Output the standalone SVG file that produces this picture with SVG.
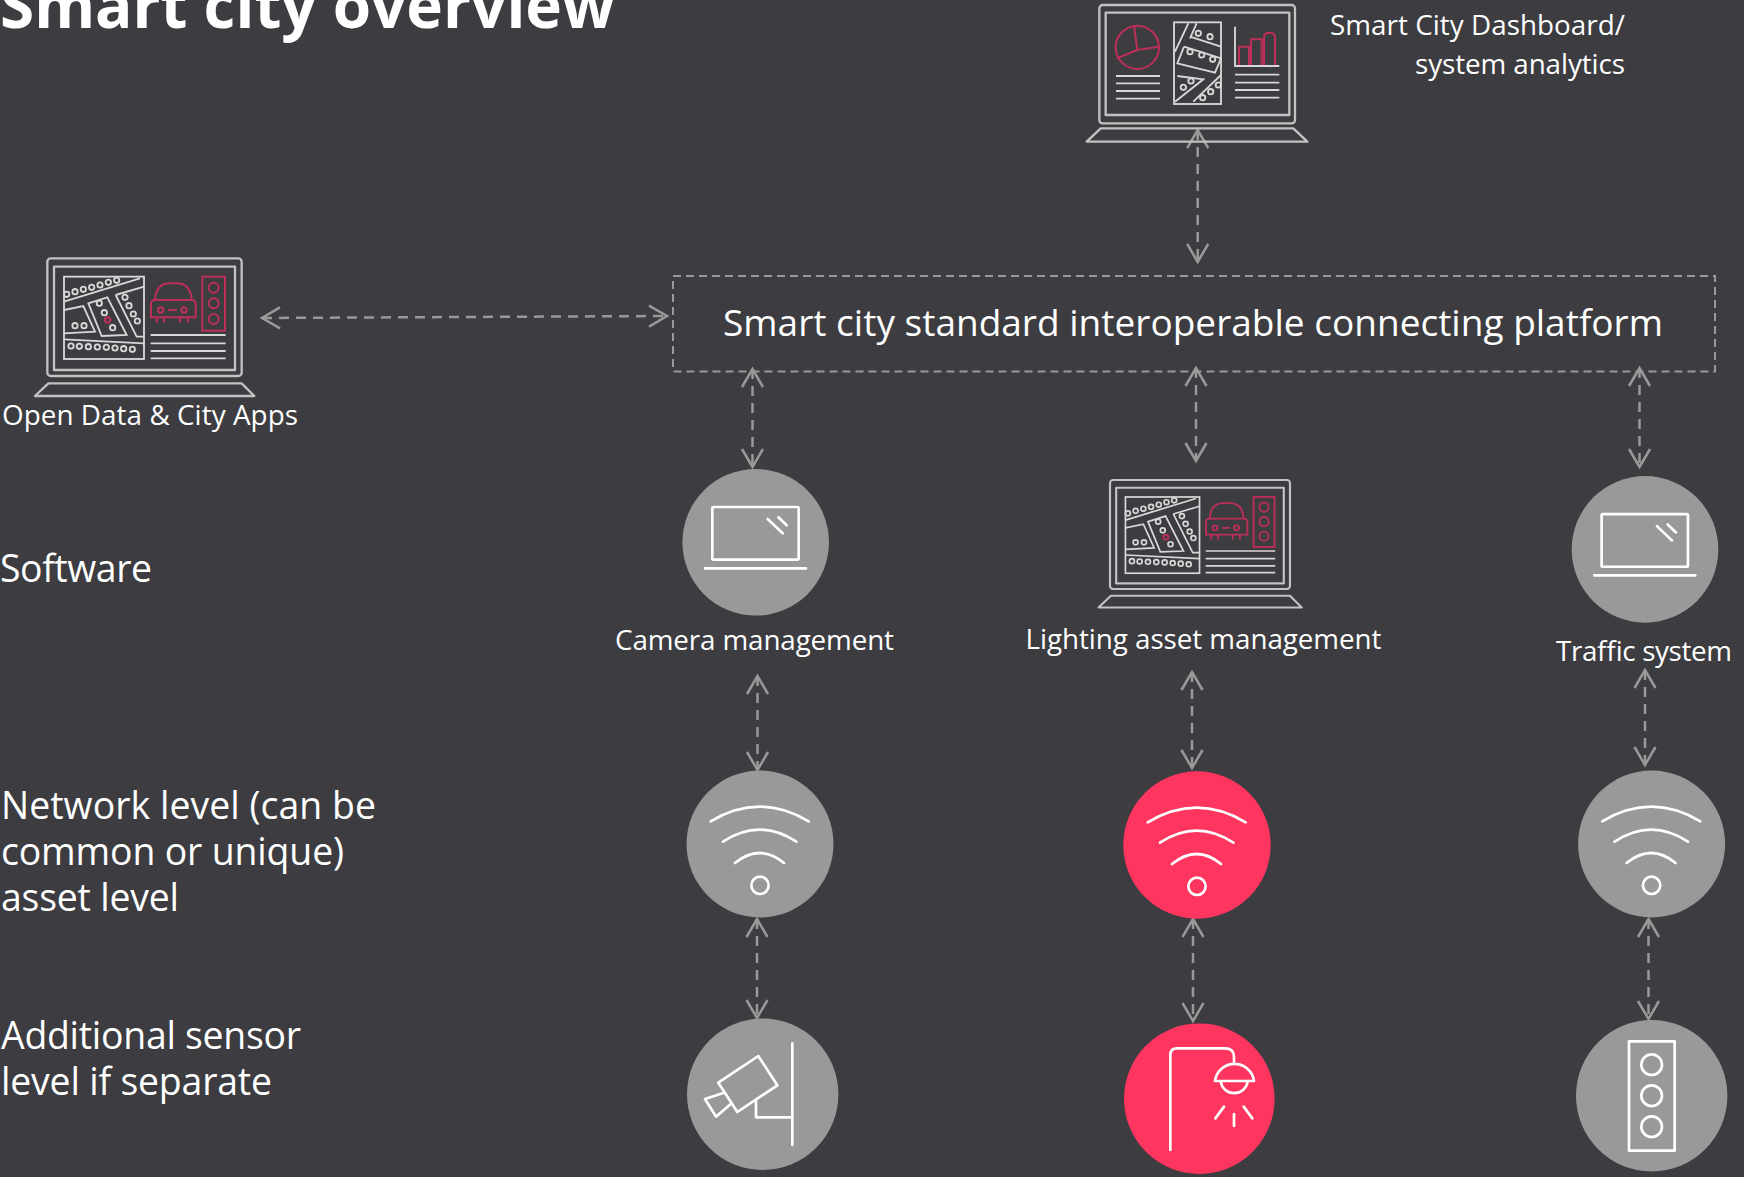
<svg xmlns="http://www.w3.org/2000/svg" xmlns:xlink="http://www.w3.org/1999/xlink" width="1744" height="1177" viewBox="0 0 1744 1177">
<style>
text{font-family:"Open Sans","Noto Sans","Liberation Sans",sans-serif;fill:#fff}
.t{font-size:62px;font-weight:700}
.lab{font-size:27.800px}
.side{font-size:37.400px}
.plat{font-size:37px}
.flow{fill:none;stroke:#999;stroke-width:2.500;stroke-dasharray:10 7;marker-start:url(#v);marker-end:url(#v)}
.gray{fill:#999}.red{fill:#fd355f}
.ico{fill:none;stroke:#fff;stroke-width:8;stroke-linecap:round;stroke-linejoin:round}
.fr{fill:none;stroke:#c2c2c2;stroke-width:7;stroke-linejoin:round}
.w{fill:none;stroke:#d8d8d8;stroke-width:5.500}
.r{fill:none;stroke:#bd2f58;stroke-width:6}
</style>
<defs>
<marker id="v" markerUnits="userSpaceOnUse" markerWidth="26" markerHeight="28" viewBox="-22 -14 26 28" refX="0" refY="0" orient="auto-start-reverse"><path d="M-18,-10.500L0,0L-18,10.500" fill="none" stroke="#999" stroke-width="2.500"/></marker>
<g id="wifi" class="ico"><path d="M143,187Q290,99 437,187M180,248Q290,176 400,248M216,312Q290,252 363,312"/><circle cx="291" cy="379" r="26"/></g>
<g id="lap" class="ico"><rect x="157" y="171" width="259" height="158" rx="4"/><path d="M135,355H438M323,207L368,250M355,202L380,226"/></g>
<g id="city-laptop">
<rect class="fr" x="82" y="55" width="583" height="353" rx="10"/>
<rect class="fr" x="102" y="80" width="543" height="310"/>
<path class="fr" d="M85,430H665L703,468H45Z"/>
<rect class="w" x="132" y="110" width="240" height="247"/>
<path class="w" d="M132,185L360,115M132,210L190,198L225,275L132,280M205,190L262,172L320,285L245,288ZM287,165L372,140M287,165L350,290H372M132,298L372,310"/>
<g class="w" stroke-width="4"><circle cx="140" cy="163" r="8"/><circle cx="165" cy="155" r="8"/><circle cx="190" cy="148" r="8"/><circle cx="215" cy="142" r="8"/><circle cx="240" cy="135" r="8"/><circle cx="265" cy="127" r="8"/><circle cx="290" cy="121" r="8"/><circle cx="165" cy="257" r="8"/><circle cx="192" cy="257" r="8"/><circle cx="238" cy="190" r="8"/><circle cx="253" cy="218" r="8"/><circle cx="278" cy="263" r="8"/><circle cx="315" cy="172" r="8"/><circle cx="327" cy="197" r="8"/><circle cx="340" cy="222" r="8"/><circle cx="352" cy="243" r="8"/><circle cx="153" cy="318" r="8"/><circle cx="178" cy="319" r="8"/><circle cx="205" cy="320" r="8"/><circle cx="232" cy="321" r="8"/><circle cx="259" cy="322" r="8"/><circle cx="285" cy="324" r="8"/><circle cx="311" cy="326" r="8"/><circle cx="337" cy="328" r="8"/></g>
<g class="r"><circle cx="263" cy="240" r="8"/><path d="M405,180Q408,130 450,130H470Q512,130 515,180M393,192Q393,180 405,180H515Q527,180 527,192V232H393ZM410,232V248M432,232V248M480,232V248M503,232V248M445,210H470"/><circle cx="422" cy="210" r="8"/><circle cx="492" cy="210" r="8"/><rect x="547" y="110" width="68" height="162"/><circle cx="581" cy="143" r="15"/><circle cx="581" cy="190" r="15"/><circle cx="581" cy="237" r="15"/></g>
<path class="w" d="M392,285H617M392,310H617M392,333H617M392,355H617"/>
</g>
</defs>
<rect width="1744" height="1177" fill="#3c3c41"/>
<g id="connectors">
<path class="flow" d="M1197.700,130V262"/>
<path class="flow" d="M262,318L667,316"/>
<path class="flow" d="M752.500,369V467"/>
<path class="flow" d="M1196,368V461"/>
<path class="flow" d="M1639.500,368V467"/>
<path class="flow" d="M757.500,676V770"/>
<path class="flow" d="M1192,672V768"/>
<path class="flow" d="M1645,670V765"/>
<path class="flow" d="M757,919V1018"/>
<path class="flow" d="M1193,919V1021"/>
<path class="flow" d="M1648.500,919V1019"/>
</g>
<g id="title"><text class="t" x="0" y="28" textLength="615">Smart city overview</text></g>
<g id="dashboard" transform="translate(1060,0) scale(.33333)">
<rect class="fr" x="118" y="15" width="587" height="355" rx="10"/>
<rect class="fr" x="137" y="38" width="551" height="307"/>
<path class="fr" d="M122,385H700L742,425H80Z"/>
<g class="r"><circle cx="232" cy="142" r="65"/><path d="M232,150L222,78M232,150L295,140M232,150L170,175M537,198V140H567V198M573,198V118H605V198M612,198V112Q612,98 628,98Q645,98 645,112V198"/></g>
<rect class="w" x="342" y="67" width="141" height="245"/>
<path class="w" d="M345,155L385,70M390,115L410,70M390,110L483,140M372,140L352,190L465,218L483,175L372,140M352,228L430,238L345,305M400,305L483,225M168,228H300M168,250H300M168,273H300M168,296H300M525,80V198H658M525,224H658M525,248H658M525,270H658M525,293H658"/>
<g class="w" stroke-width="4"><circle cx="415" cy="100" r="8"/><circle cx="450" cy="110" r="8"/><circle cx="390" cy="155" r="8"/><circle cx="425" cy="165" r="8"/><circle cx="458" cy="178" r="8"/><circle cx="393" cy="243" r="8"/><circle cx="370" cy="262" r="8"/><circle cx="475" cy="255" r="8"/><circle cx="452" cy="275" r="8"/><circle cx="428" cy="293" r="8"/></g>
</g>
<g id="dashboard-label"><text class="lab" x="1330" y="35" textLength="295">Smart City Dashboard/</text><text class="lab" x="1415" y="74" textLength="210">system analytics</text></g>
<g id="open-data"><use xlink:href="#city-laptop" href="#city-laptop" transform="translate(20,240) scale(.33333)"/><text class="lab" x="2" y="425" textLength="296">Open Data &amp; City Apps</text></g>
<g id="platform"><rect x="673" y="276" width="1042" height="95.500" fill="none" stroke="#999" stroke-width="2" stroke-dasharray="8 5"/><text class="plat" x="723" y="336" textLength="940">Smart city standard interoperable connecting platform</text></g>
<g id="side-labels">
<text class="side" x="0" y="582" textLength="152">Software</text>
<text class="side" x="1" y="818.600" textLength="375">Network level (can be</text>
<text class="side" x="1" y="864.500" textLength="343">common or unique)</text>
<text class="side" x="1" y="911" textLength="178">asset level</text>
<text class="side" x="1" y="1049" textLength="300">Additional sensor</text>
<text class="side" x="1" y="1094.500" textLength="271">level if separate</text>
</g>
<g id="camera-management"><circle class="gray" cx="755.700" cy="542.300" r="73.300"/><use xlink:href="#lap" href="#lap" transform="translate(660,450) scale(.33333)"/><text class="lab" x="615" y="650" textLength="279">Camera management</text></g>
<g id="lighting-management"><use xlink:href="#city-laptop" href="#city-laptop" transform="translate(1084.690,463.020) scale(.3087)"/><text class="lab" x="1025.500" y="648.500" textLength="356">Lighting asset management</text></g>
<g id="traffic-system"><circle class="gray" cx="1645" cy="549.400" r="73.300"/><use xlink:href="#lap" href="#lap" transform="translate(1549.300,457.100) scale(.33333)"/><text class="lab" x="1556" y="661" textLength="176">Traffic system</text></g>
<g id="network-1"><circle class="gray" cx="760" cy="844" r="73.500"/><use xlink:href="#wifi" href="#wifi" transform="translate(663,759) scale(.33333)"/></g>
<g id="network-2"><circle class="red" cx="1197" cy="845" r="73.700"/><use xlink:href="#wifi" href="#wifi" transform="translate(1100,760) scale(.33333)"/></g>
<g id="network-3"><circle class="gray" cx="1651.600" cy="844" r="73.500"/><use xlink:href="#wifi" href="#wifi" transform="translate(1554.600,759) scale(.33333)"/></g>
<g id="sensor-camera"><circle class="gray" cx="762.700" cy="1094.300" r="75.700"/><g class="ico" transform="translate(660,1000) scale(.33333)"><path d="M175,248L295,168L352,256L232,336ZM192,278L135,297L168,350L212,312M288,305V352H397M397,130V435"/></g></g>
<g id="sensor-lamp"><circle class="red" cx="1199.300" cy="1098.700" r="75.300"/><g class="ico" transform="translate(1100,1000) scale(.33333)"><path d="M211,450V165Q211,145 231,145H375Q402,145 402,170V185M345,243A59,59 0 0 1 462,243ZM362,245A41,41 0 0 0 443,245M346,355L372,320M402,378V342M457,355L431,320"/></g></g>
<g id="sensor-traffic"><circle class="gray" cx="1651.700" cy="1095.700" r="75.700"/><g class="ico" transform="translate(1560,1000) scale(.33333)"><rect x="207" y="124" width="137" height="328"/><circle cx="275" cy="194" r="31"/><circle cx="275" cy="287" r="31"/><circle cx="275" cy="380" r="31"/></g></g>
</svg>
